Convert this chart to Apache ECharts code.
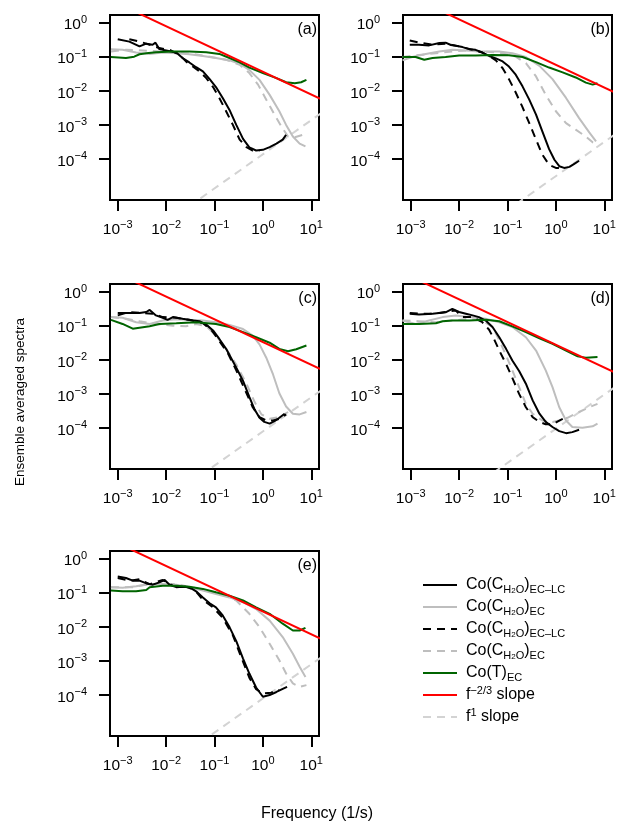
<!DOCTYPE html>
<html>
<head>
<meta charset="utf-8">
<script src="https://cdn.jsdelivr.net/npm/echarts@6/dist/echarts.min.js"></script>
<style>
  html, body { margin: 0; padding: 0; background: #fff; }
  #chart { width: 617px; height: 826px; }
</style>
</head>
<body>
<div id="chart"></div>
<script>
// every pair is [log10(frequency), log10(spectrum)]
const xTicks = [-3, -2, -1, 0, 1]
const yTicks = [0, -1, -2, -3, -4]
const xRange = [-3.16, 1.16]
const yRange = [-5.2, 0.22]
const panelLabels = ['(a)', '(b)', '(c)', '(d)', '(e)']

// (a)
const aEcLc = [[-3.0,-0.49],[-2.76,-0.56],[-2.55,-0.70],[-2.41,-0.62],[-2.28,-0.65],[-2.22,-0.59],[-2.14,-0.78],[-2.0,-0.82],[-1.79,-0.88],[-1.66,-1.04],[-1.52,-1.17],[-1.38,-1.31],[-1.24,-1.43],[-1.10,-1.66],[-0.97,-1.89],[-0.83,-2.21],[-0.69,-2.56],[-0.55,-3.0],[-0.41,-3.41],[-0.28,-3.66],[-0.14,-3.75],[0,-3.73],[0.14,-3.65],[0.28,-3.55],[0.41,-3.43],[0.48,-3.29]]
const aEc = [[-3.14,-0.78],[-2.90,-0.80],[-2.62,-0.88],[-2.34,-0.92],[-2.07,-0.88],[-1.79,-0.90],[-1.52,-0.93],[-1.24,-0.98],[-0.97,-1.04],[-0.69,-1.11],[-0.48,-1.21],[-0.28,-1.39],[-0.07,-1.68],[0.14,-2.12],[0.34,-2.60],[0.48,-3.0],[0.62,-3.34],[0.76,-3.55],[0.88,-3.63]]
const aEcLcDash = [[-2.76,-0.49],[-2.55,-0.56],[-2.34,-0.65],[-2.14,-0.75],[-1.93,-0.80],[-1.72,-0.95],[-1.59,-1.14],[-1.45,-1.29],[-1.31,-1.43],[-1.17,-1.63],[-1.03,-1.89],[-0.90,-2.21],[-0.76,-2.60],[-0.62,-3.0],[-0.48,-3.43],[-0.34,-3.65],[-0.21,-3.75],[-0.07,-3.75]]
const aEcDash = [[-3.14,-0.85],[-2.83,-0.80],[-2.48,-0.82],[-2.14,-0.85],[-1.79,-0.88],[-1.45,-0.92],[-1.10,-1.0],[-0.76,-1.09],[-0.48,-1.24],[-0.28,-1.48],[-0.10,-1.82],[0.07,-2.26],[0.24,-2.70],[0.38,-3.04],[0.52,-3.34],[0.66,-3.36],[0.83,-3.29],[0.93,-3.24]]
const aT = [[-3.14,-1.01],[-2.83,-1.04],[-2.66,-1.0],[-2.55,-0.93],[-2.41,-0.90],[-2.21,-0.87],[-1.86,-0.85],[-1.52,-0.85],[-1.17,-0.87],[-0.90,-0.92],[-0.69,-1.04],[-0.48,-1.17],[-0.28,-1.32],[0,-1.48],[0.28,-1.63],[0.48,-1.75],[0.66,-1.78],[0.79,-1.75],[0.90,-1.68]]
const aSlope23 = [[-3.5,0.89],[1.5,-2.44]]
const aSlope1 = [[-2,-5.86],[1.5,-2.36]]

// (b)
const bEcLc = [[-3.02,-0.65],[-2.83,-0.65],[-2.62,-0.67],[-2.41,-0.60],[-2.28,-0.59],[-2.17,-0.66],[-2.07,-0.68],[-1.93,-0.72],[-1.79,-0.78],[-1.66,-0.80],[-1.52,-0.88],[-1.38,-0.98],[-1.24,-1.05],[-1.10,-1.14],[-0.97,-1.29],[-0.83,-1.53],[-0.69,-1.87],[-0.55,-2.26],[-0.41,-2.70],[-0.28,-3.19],[-0.14,-3.71],[-0.03,-4.02],[0.07,-4.21],[0.17,-4.26],[0.28,-4.23],[0.38,-4.14],[0.48,-4.05]]
const bEc = [[-3.17,-1.11],[-2.97,-1.01],[-2.69,-0.92],[-2.41,-0.85],[-2.14,-0.80],[-1.86,-0.82],[-1.59,-0.84],[-1.17,-0.85],[-0.90,-0.90],[-0.62,-1.01],[-0.34,-1.27],[-0.07,-1.66],[0.21,-2.21],[0.48,-2.80],[0.69,-3.22],[0.83,-3.48]]
const bEcLcDash = [[-3.02,-0.53],[-2.83,-0.59],[-2.55,-0.65],[-2.28,-0.62],[-2.0,-0.70],[-1.72,-0.80],[-1.52,-0.88],[-1.38,-0.98],[-1.24,-1.11],[-1.10,-1.34],[-0.97,-1.66],[-0.83,-2.05],[-0.69,-2.48],[-0.55,-2.95],[-0.41,-3.43],[-0.28,-3.87],[-0.14,-4.17],[0,-4.26],[0.10,-4.26]]
const bEcDash = [[-3.17,-1.01],[-2.83,-0.95],[-2.48,-0.90],[-2.14,-0.85],[-1.86,-0.82],[-1.52,-0.85],[-1.17,-0.88],[-0.83,-1.0],[-0.62,-1.19],[-0.41,-1.58],[-0.21,-2.12],[0,-2.60],[0.21,-2.95],[0.41,-3.14],[0.62,-3.34],[0.76,-3.51],[0.86,-3.58]]
const bT = [[-3.17,-1.01],[-2.90,-1.01],[-2.72,-1.09],[-2.55,-1.04],[-2.28,-1.01],[-2.0,-0.97],[-1.66,-0.97],[-1.31,-0.95],[-0.97,-0.96],[-0.69,-1.01],[-0.41,-1.16],[-0.14,-1.32],[0.14,-1.46],[0.41,-1.61],[0.62,-1.76],[0.76,-1.82],[0.86,-1.78]]
const bSlope23 = [[-3.5,1.09],[1.5,-2.24]]
const bSlope1 = [[-2,-6.5],[1.5,-3.0]]

// (c)
const cEcLc = [[-3.0,-0.63],[-2.76,-0.63],[-2.55,-0.63],[-2.41,-0.60],[-2.34,-0.54],[-2.21,-0.70],[-2.07,-0.77],[-1.97,-0.83],[-1.86,-0.75],[-1.66,-0.80],[-1.45,-0.85],[-1.31,-0.87],[-1.17,-0.97],[-1.03,-1.14],[-0.90,-1.39],[-0.76,-1.68],[-0.66,-1.94],[-0.55,-2.23],[-0.41,-2.62],[-0.28,-3.09],[-0.17,-3.46],[-0.07,-3.70],[0.03,-3.82],[0.14,-3.87],[0.24,-3.80],[0.34,-3.70],[0.45,-3.58]]
const cEc = [[-3.14,-0.75],[-2.90,-0.77],[-2.62,-0.90],[-2.34,-0.95],[-2.07,-0.85],[-1.79,-0.81],[-1.52,-0.83],[-1.24,-0.85],[-0.97,-0.90],[-0.69,-0.98],[-0.41,-1.10],[-0.21,-1.29],[-0.07,-1.55],[0.07,-1.94],[0.21,-2.43],[0.34,-2.98],[0.48,-3.37],[0.62,-3.58],[0.76,-3.60],[0.90,-3.53]]
const cEcLcDash = [[-3.0,-0.70],[-2.76,-0.60],[-2.48,-0.63],[-2.28,-0.65],[-2.07,-0.75],[-1.79,-0.77],[-1.52,-0.83],[-1.24,-0.93],[-1.07,-1.12],[-0.90,-1.45],[-0.72,-1.82],[-0.55,-2.31],[-0.38,-2.85],[-0.21,-3.39],[-0.07,-3.68],[0.07,-3.78],[0.21,-3.78],[0.34,-3.73],[0.48,-3.60]]
const cEcDash = [[-3.14,-0.75],[-2.83,-0.80],[-2.55,-0.87],[-2.21,-0.95],[-1.86,-1.0],[-1.59,-1.02],[-1.38,-0.95],[-1.17,-1.02],[-0.97,-1.29],[-0.76,-1.68],[-0.55,-2.14],[-0.34,-2.70],[-0.17,-3.24],[-0.03,-3.60],[0.14,-3.73],[0.34,-3.68],[0.52,-3.53]]
const cT = [[-3.14,-0.83],[-2.90,-0.95],[-2.69,-1.09],[-2.55,-1.06],[-2.34,-1.02],[-2.14,-0.95],[-1.79,-0.93],[-1.38,-0.90],[-0.97,-0.95],[-0.69,-1.04],[-0.41,-1.19],[-0.14,-1.34],[0.14,-1.50],[0.34,-1.68],[0.52,-1.75],[0.69,-1.69],[0.90,-1.58]]
const cSlope23 = [[-3.5,0.85],[1.5,-2.48]]
const cSlope1 = [[-2,-6.1],[1.5,-2.6]]

// (d)
const dEcLc = [[-3.02,-0.65],[-2.83,-0.67],[-2.55,-0.65],[-2.28,-0.61],[-2.14,-0.51],[-2.0,-0.60],[-1.86,-0.65],[-1.72,-0.70],[-1.59,-0.75],[-1.45,-0.85],[-1.31,-1.04],[-1.17,-1.34],[-1.03,-1.68],[-0.90,-2.02],[-0.76,-2.33],[-0.62,-2.70],[-0.48,-3.19],[-0.34,-3.58],[-0.21,-3.82],[-0.07,-3.97],[0.07,-4.09],[0.21,-4.15],[0.34,-4.12],[0.48,-4.05]]
const dEc = [[-3.17,-0.85],[-2.90,-0.95],[-2.62,-0.85],[-2.34,-0.75],[-2.07,-0.70],[-1.79,-0.75],[-1.45,-0.80],[-1.17,-0.90],[-0.90,-1.04],[-0.62,-1.34],[-0.41,-1.73],[-0.21,-2.31],[-0.07,-2.80],[0.07,-3.39],[0.21,-3.78],[0.34,-3.97],[0.55,-3.99],[0.76,-3.95],[0.86,-3.87]]
const dEcLcDash = [[-3.02,-0.63],[-2.83,-0.65],[-2.62,-0.65],[-2.41,-0.63],[-2.21,-0.58],[-2.07,-0.56],[-1.93,-0.75],[-1.72,-0.75],[-1.52,-0.90],[-1.38,-1.12],[-1.28,-1.39],[-1.17,-1.73],[-1.03,-2.12],[-0.90,-2.53],[-0.76,-3.0],[-0.62,-3.39],[-0.48,-3.68],[-0.34,-3.82],[-0.21,-3.89],[-0.07,-3.89],[0.07,-3.78],[0.24,-3.66]]
const dEcDash = [[-3.17,-0.85],[-2.83,-0.87],[-2.48,-0.90],[-2.14,-0.85],[-1.79,-0.80],[-1.52,-0.85],[-1.31,-1.04],[-1.17,-1.43],[-1.03,-1.87],[-0.90,-2.31],[-0.76,-2.80],[-0.62,-3.29],[-0.48,-3.58],[-0.28,-3.78],[-0.07,-3.82],[0.07,-3.78],[0.24,-3.70],[0.48,-3.53],[0.69,-3.39],[0.86,-3.29]]
const dT = [[-3.17,-0.95],[-2.83,-0.95],[-2.48,-0.93],[-2.34,-0.87],[-2.14,-0.85],[-1.79,-0.85],[-1.45,-0.83],[-1.17,-0.87],[-0.90,-1.02],[-0.62,-1.19],[-0.34,-1.37],[-0.07,-1.53],[0.21,-1.73],[0.45,-1.90],[0.62,-1.94],[0.86,-1.92]]
const dSlope23 = [[-3.5,0.77],[1.5,-2.56]]
const dSlope1 = [[-2,-6.02],[1.5,-2.52]]

// (e)
const eEcLc = [[-3.0,-0.53],[-2.83,-0.57],[-2.69,-0.65],[-2.55,-0.65],[-2.41,-0.73],[-2.28,-0.77],[-2.14,-0.70],[-2.03,-0.63],[-1.93,-0.77],[-1.79,-0.84],[-1.66,-0.83],[-1.52,-0.84],[-1.38,-0.96],[-1.24,-1.14],[-1.10,-1.31],[-0.97,-1.43],[-0.83,-1.67],[-0.69,-2.01],[-0.55,-2.42],[-0.41,-2.93],[-0.28,-3.37],[-0.14,-3.78],[0,-4.05],[0.14,-4.0],[0.28,-3.91],[0.41,-3.82],[0.50,-3.76]]
const eEc = [[-3.14,-0.84],[-2.90,-0.86],[-2.62,-0.81],[-2.34,-0.75],[-2.07,-0.75],[-1.79,-0.77],[-1.52,-0.84],[-1.24,-0.94],[-0.97,-1.04],[-0.69,-1.14],[-0.41,-1.28],[-0.14,-1.48],[0.14,-1.82],[0.41,-2.30],[0.62,-2.79],[0.76,-3.17],[0.88,-3.47]]
const eEcLcDash = [[-3.0,-0.57],[-2.76,-0.65],[-2.55,-0.61],[-2.34,-0.75],[-2.07,-0.63],[-1.86,-0.80],[-1.59,-0.83],[-1.41,-0.92],[-1.24,-1.21],[-1.03,-1.43],[-0.83,-1.74],[-0.62,-2.25],[-0.45,-2.88],[-0.28,-3.49],[-0.14,-3.83],[0,-3.95],[0.17,-3.93],[0.34,-3.85]]
const eEcDash = [[-3.14,-0.84],[-2.69,-0.84],[-2.34,-0.75],[-1.79,-0.75],[-1.31,-0.89],[-0.83,-1.04],[-0.55,-1.23],[-0.28,-1.62],[-0.07,-2.01],[0.14,-2.50],[0.34,-2.98],[0.48,-3.37],[0.62,-3.66],[0.76,-3.76],[0.90,-3.71]]
const eT = [[-3.14,-0.94],[-2.90,-0.96],[-2.62,-0.96],[-2.41,-0.92],[-2.34,-0.84],[-2.07,-0.80],[-1.79,-0.80],[-1.52,-0.83],[-1.24,-0.89],[-0.97,-0.99],[-0.69,-1.09],[-0.41,-1.23],[-0.14,-1.43],[0.14,-1.62],[0.41,-1.91],[0.62,-2.11],[0.76,-2.11],[0.88,-2.03]]
const eSlope23 = [[-3.5,0.78],[1.5,-2.55]]
const eSlope1 = [[-2,-6.1],[1.5,-2.6]]

const panels = [
  { k: aEcLc, g: aEc, kd: aEcLcDash, gd: aEcDash, t: aT, s23: aSlope23, s1: aSlope1 },
  { k: bEcLc, g: bEc, kd: bEcLcDash, gd: bEcDash, t: bT, s23: bSlope23, s1: bSlope1 },
  { k: cEcLc, g: cEc, kd: cEcLcDash, gd: cEcDash, t: cT, s23: cSlope23, s1: cSlope1 },
  { k: dEcLc, g: dEc, kd: dEcLcDash, gd: dEcDash, t: dT, s23: dSlope23, s1: dSlope1 },
  { k: eEcLc, g: eEc, kd: eEcLcDash, gd: eEcDash, t: eT, s23: eSlope23, s1: eSlope1 }
]

const FONT = 'Liberation Sans'
const gridPos = [[110, 15], [403, 15], [110, 284], [403, 284], [110, 551]]
const gridW = 209
const gridH = 185

const dash = [8, 6]
const lineStyles = {
  s1: { color: '#d3d3d3', type: dash },
  gd: { color: '#bebebe', type: dash },
  g: { color: '#bebebe', type: 'solid' },
  kd: { color: '#000000', type: dash },
  k: { color: '#000000', type: 'solid' },
  t: { color: '#006400', type: 'solid' },
  s23: { color: '#ff0000', type: 'solid' }
}
const drawOrder = ['s1', 'gd', 'g', 'kd', 'k', 't', 's23']
const legendOrder = ['k', 'g', 'kd', 'gd', 't', 's23', 's1']
const legendText = {
  k: 'Co(C{sub|H}{sub2|2}{sub|O}){sub|EC\u2013LC}',
  g: 'Co(C{sub|H}{sub2|2}{sub|O}){sub|EC}',
  kd: 'Co(C{sub|H}{sub2|2}{sub|O}){sub|EC\u2013LC}',
  gd: 'Co(C{sub|H}{sub2|2}{sub|O}){sub|EC}',
  t: 'Co(T){sub|EC}',
  s23: 'f{sup|\u22122/3} slope',
  s1: 'f{sup|1} slope'
}

const tickLabel = v => {
  const n = Math.round(v)
  return '10{sup|' + (n < 0 ? '\u2212' + (-n) : n) + '}'
}
const supRich = {
  sup: { fontSize: 11, lineHeight: 6, verticalAlign: 'top', fontFamily: FONT, color: '#000' }
}

const chart = echarts.init(document.getElementById('chart'), null, { renderer: 'canvas' })

const grid = []
const xAxis = []
const yAxis = []
const series = []
const graphic = []

panels.forEach((p, i) => {
  grid.push({
    left: gridPos[i][0], top: gridPos[i][1], width: gridW, height: gridH,
    show: true, borderColor: '#000', borderWidth: 2, backgroundColor: 'transparent',
    containLabel: false, outerBoundsMode: 'none'
  })
  xAxis.push({
    type: 'value', gridIndex: i, min: xRange[0], max: xRange[1], position: 'bottom',
    axisLine: { show: false, onZero: false },
    splitLine: { show: false },
    axisTick: { show: true, inside: false, length: 11, customValues: xTicks, lineStyle: { color: '#000', width: 2 } },
    axisLabel: {
      customValues: xTicks, formatter: tickLabel, margin: 14, padding: [5, 0, 0, 0],
      fontFamily: FONT, fontSize: 15.5, lineHeight: 22, color: '#000', rich: supRich
    }
  })
  yAxis.push({
    type: 'value', gridIndex: i, min: yRange[0], max: yRange[1], position: 'left',
    axisLine: { show: false, onZero: false },
    splitLine: { show: false },
    axisTick: { show: true, inside: false, length: 11, customValues: yTicks, lineStyle: { color: '#000', width: 2 } },
    axisLabel: {
      customValues: yTicks, formatter: tickLabel, margin: 23, padding: [5, 0, 0, 0],
      fontFamily: FONT, fontSize: 15.5, lineHeight: 22, color: '#000', rich: supRich
    }
  })
  drawOrder.forEach(key => {
    series.push({
      name: key, type: 'line', xAxisIndex: i, yAxisIndex: i,
      data: p[key], symbol: 'none', showSymbol: false, clip: true,
      silent: true, animation: false,
      lineStyle: { color: lineStyles[key].color, type: lineStyles[key].type, width: 2 },
      itemStyle: { color: lineStyles[key].color }
    })
  })
  graphic.push({
    type: 'text',
    x: gridPos[i][0] + gridW - 2, y: gridPos[i][1] + 14.5,
    style: { text: panelLabels[i], fontFamily: FONT, fontSize: 16, fill: '#000', align: 'right', verticalAlign: 'middle' }
  })
})

graphic.push({
  type: 'text', x: 20, y: 402, rotation: Math.PI / 2,
  style: { text: 'Ensemble averaged spectra', fontFamily: FONT, fontSize: 13.5, fill: '#000', align: 'center', verticalAlign: 'middle' }
})
graphic.push({
  type: 'text', x: 317, y: 814,
  style: { text: 'Frequency (1/s)', fontFamily: FONT, fontSize: 16, fill: '#000', align: 'center', verticalAlign: 'middle' }
})

chart.setOption({
  animation: false,
  grid: grid,
  xAxis: xAxis,
  yAxis: yAxis,
  series: series,
  graphic: graphic,
  legend: {
    data: legendOrder,
    orient: 'vertical',
    left: 417, top: 570,
    itemWidth: 34, itemHeight: 14, itemGap: 2,
    selectedMode: false,
    itemStyle: { color: 'rgba(0,0,0,0)', borderColor: 'rgba(0,0,0,0)', borderWidth: 0 },
    formatter: name => legendText[name],
    textStyle: {
      fontFamily: FONT, fontSize: 16, lineHeight: 20, color: '#000', padding: [0, 0, 0, 4],
      rich: {
        sub: { fontSize: 11, lineHeight: 14, verticalAlign: 'bottom', fontFamily: FONT, color: '#000' },
        sub2: { fontSize: 8, lineHeight: 9, verticalAlign: 'bottom', fontFamily: FONT, color: '#000' },
        sup: { fontSize: 11, lineHeight: 8, verticalAlign: 'top', fontFamily: FONT, color: '#000' }
      }
    }
  }
})
</script>
</body>
</html>
